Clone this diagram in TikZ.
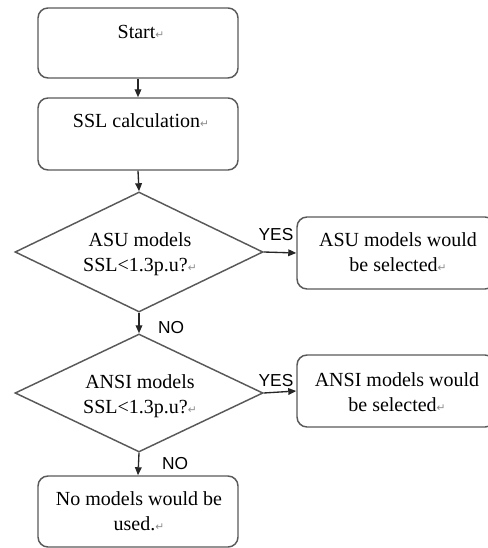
\documentclass[tikz,border=0pt]{standalone}
\usepackage{fontspec}
\setmainfont{Liberation Serif}
\newfontfamily\labelfont{Liberation Sans}
\newfontfamily\markfont{DejaVu Sans}
\usetikzlibrary{shapes.geometric,arrows.meta}
% paragraph mark that trails each text
\newcommand\parmark{{\markfont\fontsize{8}{8}\selectfont\color{black!45}↵}}

\begin{document}
\begin{tikzpicture}[x=0.75pt,y=-0.75pt,
  box/.style={draw=black!65, line width=1.1pt, rounded corners=7.5pt, inner sep=0pt},
  decision/.style={draw=black!65, line width=1.1pt, diamond, inner sep=0pt},
  txt/.style={font=\fontsize{15}{18.75}\selectfont, align=center, inner sep=0pt, anchor=base},
  lab/.style={font=\labelfont\fontsize{13}{13}\selectfont, inner sep=0pt, anchor=base},
  flow/.style={draw=black!85, line width=1pt, -{Triangle[length=6pt,width=5pt]}}]

\useasboundingbox (0,0) rectangle (487,548);

% process boxes and decisions
\node[box, minimum width=150pt, minimum height=52.5pt] (start) at (138,43) {};
\node[box, minimum width=150pt, minimum height=54pt] (ssl) at (138,134) {};
\node[decision, minimum width=186pt, minimum height=90pt] (d1) at (139,252) {};
\node[box, minimum width=148.5pt, minimum height=54pt] (asu) at (396,253) {};
\node[decision, minimum width=186pt, minimum height=88.5pt] (d2) at (139,393) {};
\node[box, minimum width=148.5pt, minimum height=54pt] (ansi) at (396,391) {};
\node[box, minimum width=150pt, minimum height=53.25pt] (none) at (138,511.5) {};

% texts (multi-line nodes are anchored at the baseline of their last line)
\node[txt] (t-start) at (141,39) {Start\parmark};
\node[txt] (t-ssl) at (141,128) {SSL calculation\parmark};
\node[txt] (t-d1) at (140,272) {ASU models\\SSL<1.3p.u?\parmark};
\node[txt] (t-asu) at (398,272) {ASU models would\\be selected\parmark};
\node[txt] (t-d2) at (140,413) {ANSI models\\SSL<1.3p.u?\parmark};
\node[txt] (t-ansi) at (397,411) {ANSI models would\\be selected\parmark};
\node[txt] (t-none) at (139,530) {No models would be\\used.\parmark};

% branch labels
\node[lab] (yes1) at (276,241) {YES};
\node[lab] (no1) at (171,333) {NO};
\node[lab] (yes2) at (276,386) {YES};
\node[lab] (no2) at (175,469) {NO};

% connectors
\draw[flow] (start.south) -- (ssl.north);
\draw[flow] (ssl.south) -- (d1.north);
\draw[flow] (d1.east) -- (asu.west);
\draw[flow] (d1.south) -- (d2.north);
\draw[flow] (d2.east) -- (ansi.west);
\draw[flow] (d2.south) -- (none.north);
\end{tikzpicture}
\end{document}
